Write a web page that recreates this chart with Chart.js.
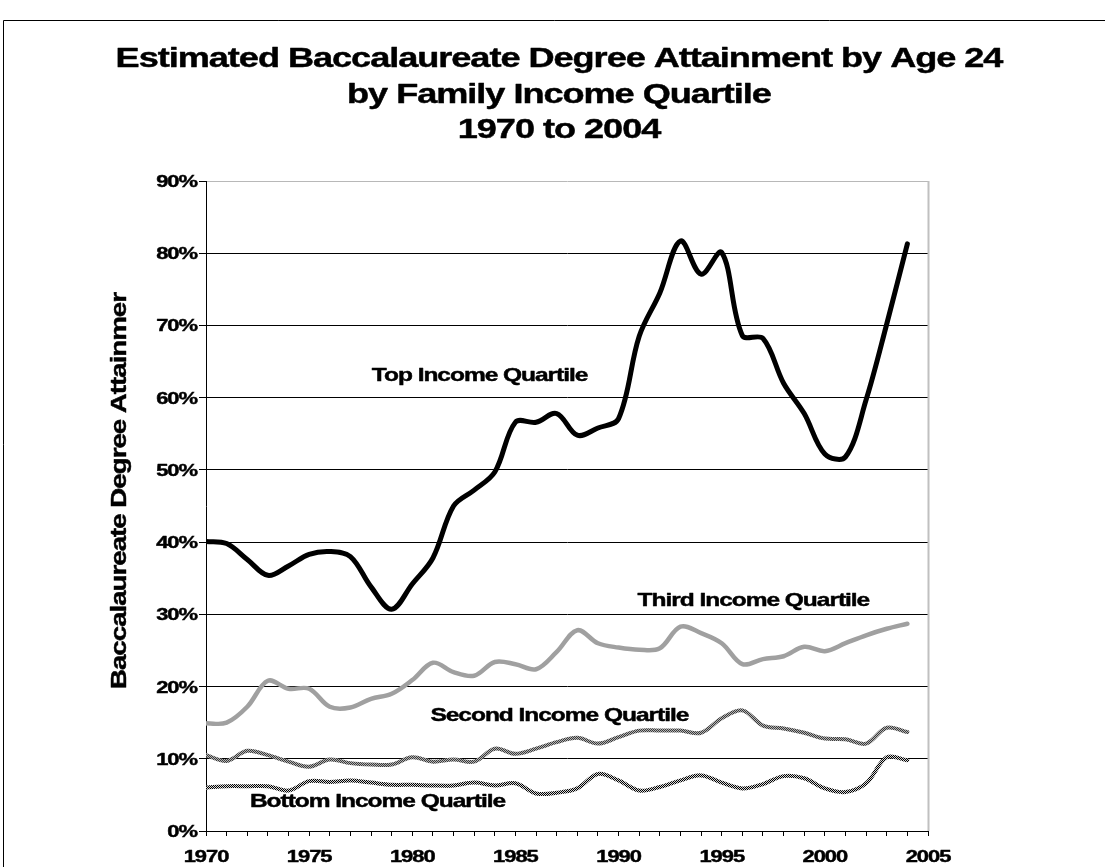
<!DOCTYPE html>
<html>
<head>
<meta charset="utf-8">
<script src="https://cdn.jsdelivr.net/npm/chart.js@4.4.1/dist/chart.umd.min.js"></script>
<style>
  html, body { margin: 0; padding: 0; background: #ffffff; }
  canvas { display: block; }
</style>
</head>
<body>
<canvas id="chart" width="1105" height="867"></canvas>
<script>
// ---- Data: estimated share attaining a bachelor's degree by age 24 (%) ----
const years = [1970, 1971, 1972, 1973, 1974, 1975, 1976, 1977, 1978, 1979,
               1980, 1981, 1982, 1983, 1984, 1985, 1986, 1987, 1988, 1989,
               1990, 1991, 1992, 1993, 1994, 1995, 1996, 1997, 1998, 1999,
               2000, 2001, 2002, 2003, 2004];

const topQuartile = [40.1, 39.8, 37.6, 35.4, 36.7, 38.3, 38.7, 38.0, 33.8, 30.7,
                     34.2, 37.8, 45.0, 47.2, 49.7, 56.6, 56.6, 57.8, 54.8, 55.8,
                     57.1, 68.5, 74.5, 81.7, 77.1, 80.1, 68.6, 68.2, 62.0, 57.8,
                     52.2, 51.8, 59.7, 70.2, 81.3];

const thirdQuartile = [14.9, 15.0, 17.2, 20.8, 19.7, 19.7, 17.2, 17.1, 18.3, 19.0,
                       20.9, 23.3, 22.0, 21.5, 23.4, 23.1, 22.4, 24.8, 27.8, 26.0,
                       25.4, 25.1, 25.3, 28.3, 27.4, 26.0, 23.1, 23.8, 24.2, 25.5,
                       24.9, 26.0, 27.1, 28.0, 28.7];

const secondQuartile = [10.5, 9.7, 11.1, 10.5, 9.6, 8.9, 9.9, 9.4, 9.2, 9.2,
                        10.2, 9.6, 9.9, 9.6, 11.4, 10.7, 11.4, 12.3, 12.9, 12.1,
                        13.0, 13.9, 13.9, 13.9, 13.6, 15.6, 16.7, 14.6, 14.2, 13.6,
                        12.8, 12.7, 12.1, 14.3, 13.7];

const bottomQuartile = [6.0, 6.2, 6.2, 6.2, 5.6, 6.9, 6.8, 7.0, 6.7, 6.4,
                        6.4, 6.3, 6.3, 6.7, 6.3, 6.6, 5.2, 5.3, 5.9, 7.9,
                        7.0, 5.6, 6.1, 7.0, 7.7, 6.7, 5.9, 6.5, 7.6, 7.3,
                        5.9, 5.4, 6.6, 10.2, 9.8];

const seriesNames = ['Top Income Quartile', 'Third Income Quartile',
                     'Second Income Quartile', 'Bottom Income Quartile'];

const titleLines = ['Estimated Baccalaureate Degree Attainment by Age 24',
                    'by Family Income Quartile',
                    '1970 to 2004'];
const yAxisTitle = 'Baccalaureate Degree Attainmer';
const xTickLabels = ['1970', '1975', '1980', '1985', '1990', '1995', '2000', '2005'];
const yTickLabels = ['0%', '10%', '20%', '30%', '40%', '50%', '60%', '70%', '80%', '90%'];

// ---- Styling helpers ----
const FONT = '"Liberation Sans", Arial, Helvetica, sans-serif';
const WIDEN = 1.29;      // wide, tightly set bold lettering
const TRACKING = '-0.8px';

function wideText(ctx, text, x, y, size, align, rotate) {
  ctx.save();
  ctx.translate(x, y);
  if (rotate) ctx.rotate(-Math.PI / 2);
  ctx.scale(WIDEN, 1);
  ctx.font = 'bold ' + size + 'px ' + FONT;
  if ('letterSpacing' in ctx) ctx.letterSpacing = TRACKING;
  ctx.textAlign = align;
  ctx.textBaseline = 'alphabetic';
  ctx.fillStyle = '#000000';
  ctx.strokeStyle = '#000000';
  ctx.lineWidth = 0.45;
  ctx.lineJoin = 'round';
  ctx.fillText(text, 0, 0);
  ctx.strokeText(text, 0, 0);
  ctx.restore();
}

// dithered strokes for the two lower quartiles
function ditherPattern(a, b) {
  const c = document.createElement('canvas');
  c.width = 2; c.height = 2;
  const g = c.getContext('2d');
  g.fillStyle = b; g.fillRect(0, 0, 2, 2);
  g.fillStyle = a; g.fillRect(0, 0, 1, 1); g.fillRect(1, 1, 1, 1);
  return g.createPattern(c, 'repeat');
}

const canvas = document.getElementById('chart');
const ctx = canvas.getContext('2d');
const secondStroke = ditherPattern('#3a3a3a', '#b4b4b4');
const bottomStroke = ditherPattern('#000000', '#d8d8d8');

// labels placed in data space: [year, value] at the start of the baseline
const seriesLabelAnchors = [
  [1978.04, 62.3],
  [1990.92, 31.2],
  [1980.88, 15.3],
  [1972.13, 3.35]
];

const textPlugin = {
  id: 'textLayer',
  afterDraw(chart) {
    const c = chart.ctx;
    const xs = chart.scales.x, ys = chart.scales.y;
    const area = chart.chartArea;

    // outer frame (top and left edges visible)
    c.save();
    c.strokeStyle = '#000000';
    c.lineWidth = 1;
    c.beginPath();
    c.moveTo(3.5, 1105); c.lineTo(3.5, 20.5); c.lineTo(1105, 20.5);
    c.stroke();

    // right edge of the plot area
    c.strokeStyle = '#c0c0c0';
    c.lineWidth = 2;
    c.beginPath();
    c.moveTo(area.right + 0.5, area.top);
    c.lineTo(area.right + 0.5, area.bottom);
    c.stroke();
    c.restore();

    // title
    const titleBaselines = [67, 103, 138];
    titleLines.forEach((t, i) => wideText(c, t, 559, titleBaselines[i], 28, 'center'));

    // y tick labels
    yTickLabels.forEach((t, i) => {
      const py = ys.getPixelForValue(i * 10);
      wideText(c, t, area.left - 9, py + 6, 17, 'right');
    });

    // x tick labels
    xTickLabels.forEach(t => {
      const px = xs.getPixelForValue(Number(t));
      wideText(c, t, px, 862, 17, 'center');
    });

    // y axis title
    wideText(c, yAxisTitle, 126, 491, 21.5, 'center', true);

    // series labels
    seriesNames.forEach((name, i) => {
      const [yr, v] = seriesLabelAnchors[i];
      wideText(c, name, xs.getPixelForValue(yr), ys.getPixelForValue(v), 19, 'left');
    });
  }
};

const toPoints = arr => arr.map((v, i) => ({ x: years[i], y: v }));

new Chart(ctx, {
  type: 'line',
  data: {
    datasets: [
      { label: seriesNames[3], data: toPoints(bottomQuartile), borderColor: bottomStroke, borderWidth: 4 },
      { label: seriesNames[2], data: toPoints(secondQuartile), borderColor: secondStroke, borderWidth: 4 },
      { label: seriesNames[1], data: toPoints(thirdQuartile), borderColor: '#a0a0a0', borderWidth: 4.5 },
      { label: seriesNames[0], data: toPoints(topQuartile), borderColor: '#000000', borderWidth: 5 }
    ]
  },
  options: {
    responsive: false,
    animation: false,
    devicePixelRatio: 1,
    layout: { padding: { left: 0, top: 181, right: 177, bottom: 0 } },
    elements: {
      point: { radius: 0, hoverRadius: 0 },
      line: { tension: 0.35, fill: false, borderCapStyle: 'round', borderJoinStyle: 'round' }
    },
    plugins: {
      legend: { display: false },
      title: { display: false },
      tooltip: { enabled: false }
    },
    scales: {
      x: {
        type: 'linear',
        min: 1970,
        max: 2005,
        ticks: { display: false, stepSize: 1 },
        grid: { drawOnChartArea: false, drawTicks: true, tickLength: 5, color: '#000000', lineWidth: 1 },
        border: { display: true, color: '#000000', width: 1 },
        afterFit: s => { s.height = 36; }
      },
      y: {
        min: 0,
        max: 90,
        ticks: { display: false, stepSize: 10 },
        grid: {
          color: c => (c.tick && c.tick.value === 90 ? '#b8b8b8' : '#000000'),
          tickColor: '#000000',
          tickLength: 7,
          lineWidth: 1
        },
        border: { display: true, color: '#000000', width: 1 },
        afterFit: s => { s.width = 206; }
      }
    }
  },
  plugins: [textPlugin]
});
</script>
</body>
</html>
